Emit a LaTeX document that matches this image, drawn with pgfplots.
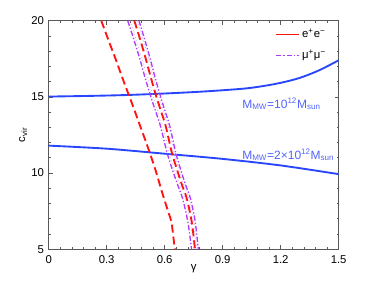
\documentclass[border=0pt]{standalone}
\usepackage{pgfplots}
\pgfplotsset{compat=1.18}
\usepackage{fontspec}
\setmainfont{Liberation Sans}
\definecolor{mwblue}{RGB}{40,70,255}
\definecolor{mwtext}{RGB}{80,100,255}
\definecolor{mured}{RGB}{255,20,20}
\definecolor{mupurple}{RGB}{175,60,255}
\definecolor{mulight}{RGB}{215,165,255}
\begin{document}
\begin{tikzpicture}
\begin{axis}[
  scale only axis,
  width=217.5pt, height=171.45pt,
  xmin=0, xmax=1.5, ymin=5, ymax=20,
  xtick={0,0.3,0.6,0.9,1.2,1.5},
  ytick={5,10,15,20},
  xticklabels={0,0.3,0.6,0.9,1.2,1.5},
  minor x tick num=4, minor y tick num=4,
  tick align=inside,
  major tick length=3pt, minor tick length=1.6pt,
  axis line style={black!65, line width=0.8pt},
  every tick/.style={black!65, line width=0.5pt},
  tick label style={font=\fontsize{8.5}{9.5}\selectfont},
  /pgf/number format/assume math mode=true,
  xticklabel style={yshift=-1pt},
  xlabel={γ}, ylabel={c\textsubscript{vir}},
  label style={font=\fontsize{8.5}{9.5}\selectfont},
  xlabel style={at={(axis description cs:0.5,-0.085)}, anchor=center},
  ylabel style={at={(axis description cs:-0.088,0.5)}, anchor=center},
  legend style={draw=none, fill=none, at={(axis description cs:0.78,0.975)}, anchor=north west,
    font=\fontsize{8.5}{9.5}\selectfont, row sep=4pt, inner sep=0pt},
  legend cell align=left,
  clip=true,
]
\addlegendimage{mured, line width=1.2pt, solid}
\addlegendentry{e\textsuperscript{+}e\textsuperscript{−}}
\addlegendimage{mupurple, line width=1pt, dash pattern=on 4pt off 1.5pt on 1pt off 1.5pt}
\addlegendentry{μ\textsuperscript{+}μ\textsuperscript{−}}

% blue curves
\addplot[mwblue, line width=1.4pt, smooth, forget plot] coordinates {
(0,15.02) (0.2,15.06) (0.4,15.12) (0.6,15.22) (0.8,15.35) (1.0,15.53) (1.1,15.69) (1.2,15.92) (1.3,16.25) (1.4,16.75) (1.5,17.4)};
\addplot[mwblue, line width=1.4pt, smooth, forget plot] coordinates {
(0,11.8) (0.3,11.6) (0.6,11.27) (0.9,10.93) (1.2,10.5) (1.5,9.93)};

% light dotted purple
\addplot[mulight, line width=0.6pt, dotted, smooth, forget plot] coordinates {
(0.421,20) (0.449,18.9) (0.481,17.6) (0.512,16.2) (0.538,15.1) (0.564,14.1) (0.590,13.1) (0.623,11.4) (0.650,10.3) (0.680,9.2) (0.704,8.35) (0.732,6.8) (0.751,5)};
\addplot[mulight, line width=0.6pt, dotted, smooth, forget plot] coordinates {
(0.459,20) (0.4855,18.9) (0.515,17.6) (0.544,16.2) (0.569,15.1) (0.593,14.1) (0.618,13.1) (0.648,11.4) (0.673,10.3) (0.701,9.2) (0.725,8.35) (0.750,6.8) (0.766,5)};

% purple dash-dot
\addplot[mupurple, line width=1pt, dash pattern=on 4pt off 1.5pt on 1pt off 1.5pt, smooth, forget plot] coordinates {
(0.409,20) (0.437,18.9) (0.469,17.6) (0.500,16.2) (0.526,15.1) (0.552,14.1) (0.578,13.1) (0.611,11.4) (0.638,10.3) (0.668,9.2) (0.692,8.35) (0.720,6.8) (0.739,5)};
\addplot[mupurple, line width=1pt, dash pattern=on 4pt off 1.5pt on 1pt off 1.5pt, smooth, forget plot] coordinates {
(0.467,20) (0.4935,18.9) (0.523,17.6) (0.552,16.2) (0.577,15.1) (0.601,14.1) (0.626,13.1) (0.656,11.4) (0.681,10.3) (0.709,9.2) (0.733,8.35) (0.758,6.8) (0.774,5)};

% red dashed
\addplot[mured, line width=1.4pt, dash pattern=on 6pt off 3pt, smooth, forget plot] coordinates {
(0.272,20) (0.31,18.7) (0.35,17.35) (0.39,15.95) (0.43,14.6) (0.47,13.2) (0.51,11.8) (0.55,10.3) (0.59,8.6) (0.62,7.4) (0.635,6.8) (0.645,5.8) (0.653,5)};
\addplot[mured, line width=1.4pt, dash pattern=on 6pt off 3pt, smooth, forget plot] coordinates {
(0.443,20) (0.47,18.9) (0.5,17.6) (0.53,16.2) (0.555,15.1) (0.58,14.1) (0.605,13.1) (0.636,11.4) (0.662,10.3) (0.69,9.2) (0.714,8.35) (0.74,6.8) (0.757,5)};

\node[anchor=west, text=mwtext, font=\fontsize{9}{10}\selectfont, inner sep=0pt] at (axis cs:1.0,14.55)
  {M\textsubscript{MW}=10\textsuperscript{12}M\textsubscript{sun}};
\node[anchor=west, text=mwtext, font=\fontsize{9}{10}\selectfont, inner sep=0pt] at (axis cs:1.0,11.2)
  {M\textsubscript{MW}=2×10\textsuperscript{12}M\textsubscript{sun}};
\end{axis}
\pgfresetboundingbox
\path ([xshift=-36.5pt, yshift=-23.8pt]current axis.south west) rectangle ([xshift=26.5pt, yshift=15.5pt]current axis.north east);
\end{tikzpicture}
\end{document}
